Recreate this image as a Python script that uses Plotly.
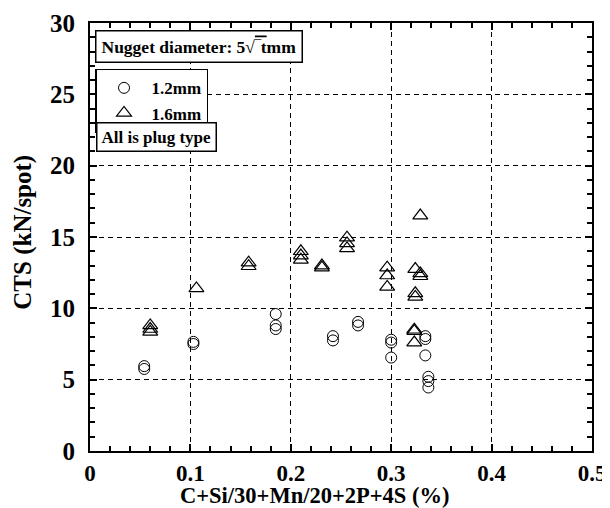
import plotly.graph_objects as go

# 1.2 mm sheets (circles)
x_12 = [0.054, 0.054, 0.103, 0.103, 0.185, 0.185, 0.185, 0.242, 0.242,
        0.267, 0.267, 0.300, 0.300, 0.300, 0.334, 0.334, 0.334,
        0.337, 0.337, 0.337]
y_12 = [5.95, 5.75, 7.65, 7.5, 9.6, 8.8, 8.55, 8.05, 7.75,
        9.05, 8.8, 7.8, 7.6, 6.55, 8.05, 7.85, 6.7,
        5.2, 4.9, 4.45]

# 1.6 mm sheets (triangles)
x_16 = [0.060, 0.060, 0.060, 0.106, 0.158, 0.158, 0.210, 0.210, 0.210,
        0.231, 0.231, 0.256, 0.256, 0.256, 0.296, 0.296, 0.296,
        0.329, 0.324, 0.329, 0.329, 0.324, 0.324, 0.323, 0.323, 0.323]
y_16 = [8.8, 8.55, 8.35, 11.4, 13.2, 12.95, 14.0, 13.7, 13.4,
        13.0, 12.85, 14.95, 14.55, 14.2, 12.85, 12.3, 11.5,
        16.5, 12.75, 12.45, 12.25, 11.05, 10.8, 8.5, 8.4, 7.6]

x_ticks = [0, 0.1, 0.2, 0.3, 0.4, 0.5]
x_ticklabels = ["0", "0.1", "0.2", "0.3", "0.4", "0.5"]
y_ticks = [0, 5, 10, 15, 20, 25, 30]

FONT = "Liberation Serif"

fig = go.Figure()
fig.add_trace(go.Scatter(
    x=x_12, y=y_12, mode="markers", name="1.2mm",
    marker=dict(symbol="circle-open", size=11, color="black",
                line=dict(width=1, color="black"))))
fig.add_trace(go.Scatter(
    x=x_16, y=y_16, mode="markers", name="1.6mm",
    marker=dict(symbol="triangle-up-open", size=13, color="black",
                line=dict(width=1.2, color="black"))))

axis_common = dict(
    showline=True, linecolor="black", linewidth=2, mirror="ticks",
    ticks="inside", ticklen=7, tickwidth=1.5, tickcolor="black",
    showgrid=True, gridcolor="black", gridwidth=1, griddash="5px,4px",
    zeroline=False, automargin=False,
)

fig.update_xaxes(
    range=[0, 0.5], tickvals=x_ticks, ticktext=x_ticklabels,
    tickfont=dict(family=FONT, size=23, color="black", weight="bold"),
    minor=dict(dtick=0.02, ticks="inside", ticklen=5, tickcolor="black",
               showgrid=False),
    **axis_common)
fig.update_yaxes(
    range=[0, 30], tickvals=y_ticks, ticklabelstandoff=8,
    tickfont=dict(family=FONT, size=25, color="black", weight="bold"),
    minor=dict(dtick=1, ticks="inside", ticklen=5, tickcolor="black",
               showgrid=False),
    **axis_common)

# axis titles
fig.add_annotation(
    xref="paper", yref="paper", x=0.448, y=0, xanchor="center", yanchor="middle",
    yshift=-44.5, text="C+Si/30+Mn/20+2P+4S (%)", showarrow=False,
    font=dict(family=FONT, size=22.5, color="black", weight="bold"))
fig.add_annotation(
    xref="paper", yref="paper", x=0, y=0.51, xanchor="center", yanchor="middle",
    xshift=-67, textangle=-90, text="CTS (kN/spot)", showarrow=False,
    font=dict(family=FONT, size=25, color="black", weight="bold"))

box_font = dict(family=FONT, size=17, color="black", weight="bold")
fig.add_annotation(
    xref="paper", yref="paper", x=0.01, y=0.984, xanchor="left", yanchor="top",
    text="Nugget diameter: 5√<span style='text-decoration:overline'>‾t</span>mm",
    showarrow=False, font=dict(family=FONT, size=17.5, color="black", weight="bold"),
    bgcolor="white", bordercolor="black", borderwidth=1.5, borderpad=5)
fig.add_annotation(
    xref="paper", yref="paper", x=0.012, y=0.769, xanchor="left", yanchor="top",
    text="All is plug type", showarrow=False, font=box_font, bgcolor="white",
    bordercolor="black", borderwidth=1.5, borderpad=4)

fig.update_layout(
    width=602, height=500,
    margin=dict(l=82, r=18, t=15, b=57),
    paper_bgcolor="white", plot_bgcolor="white",
    showlegend=True,
    legend=dict(x=0.01, y=0.893, xanchor="left", yanchor="top",
                bgcolor="white", bordercolor="black", borderwidth=1.5,
                font=dict(family=FONT, size=17, color="black", weight="bold"),
                itemwidth=45, tracegroupgap=0),
)

fig.write_html("out.html")
